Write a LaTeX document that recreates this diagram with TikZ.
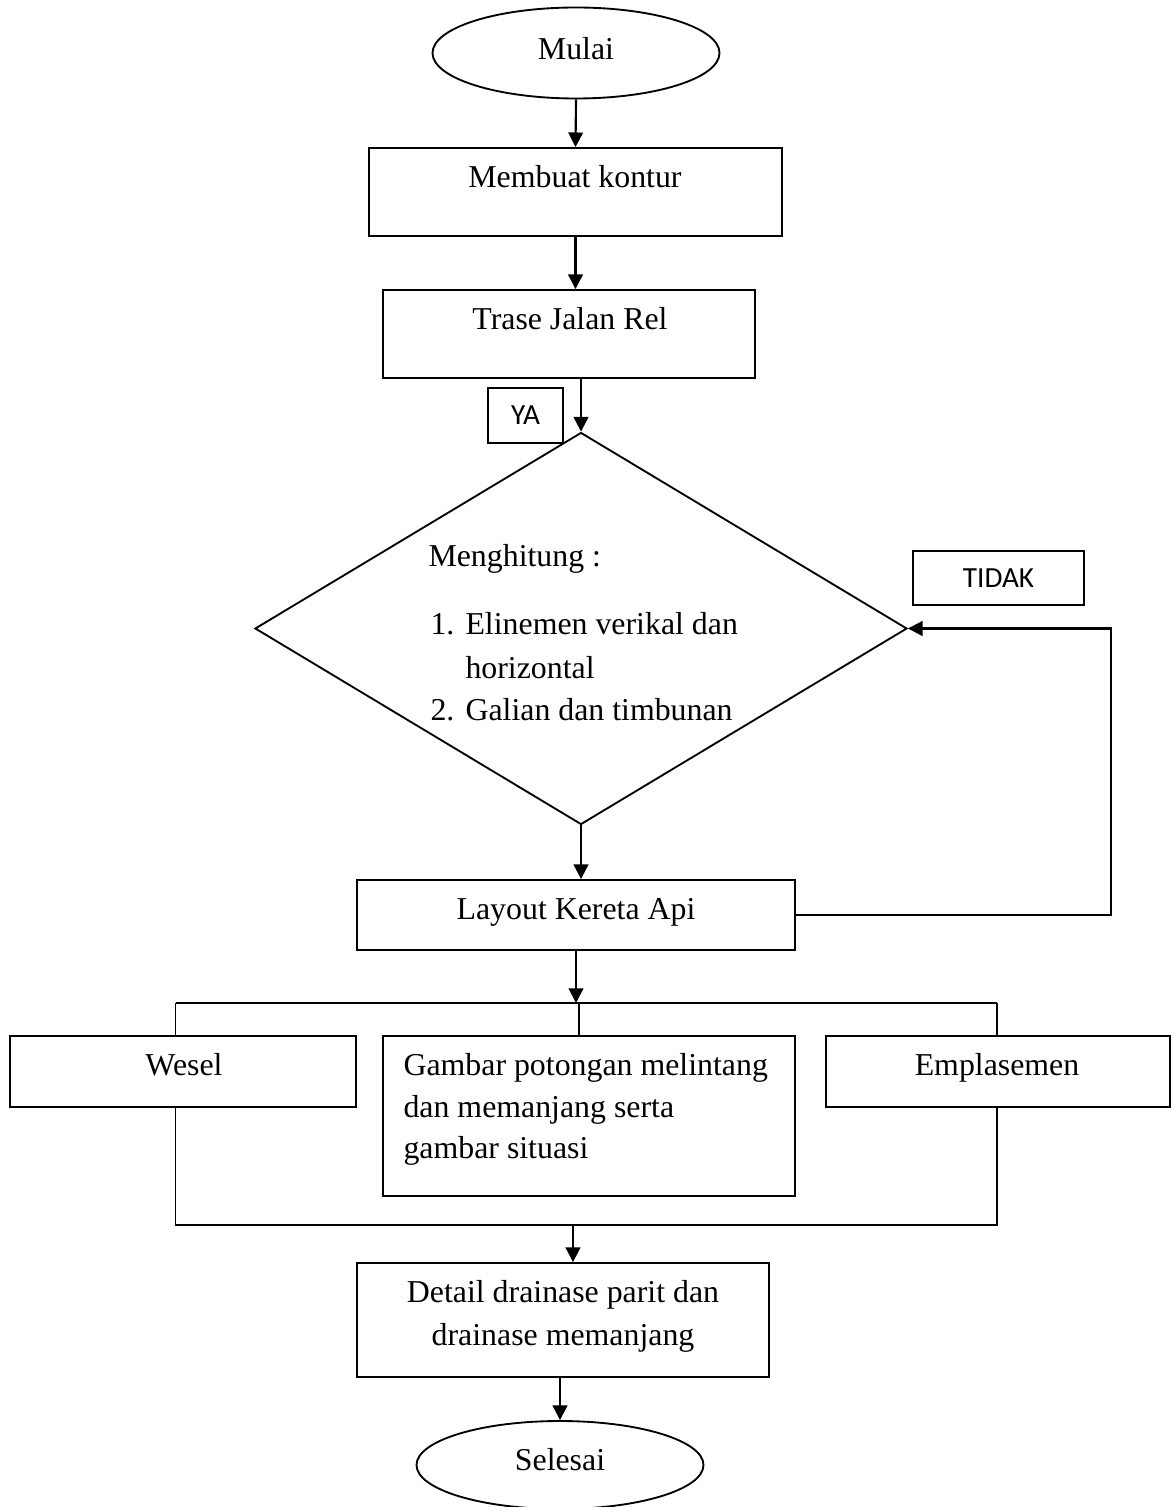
\documentclass[tikz,border=0pt]{standalone}
\usepackage{fontspec}
\setmainfont{Liberation Serif}
\newfontfamily\calibri{Carlito}
\usetikzlibrary{shapes.geometric, arrows.meta, positioning, calc}

\tikzset{
  box/.style={draw, line width=0.7pt, rectangle, inner sep=0pt},
  oval/.style={draw, line width=0.7pt, ellipse, inner sep=0pt},
  decision/.style={draw, line width=0.7pt, diamond, inner sep=0pt},
  tag/.style={draw, line width=0.7pt, rectangle, inner sep=0pt, font=\calibri\fontsize{11}{13}\selectfont},
  txt/.style={font=\fontsize{12}{15}\selectfont, inner sep=0pt, anchor=base},
  txtl/.style={txt, anchor=base west},
  arr/.style={line width=0.8pt, -{Triangle[length=5.5pt,width=5.5pt]}},
  line/.style={line width=0.7pt},
  wh/.style 2 args={minimum width=#1*0.01325cm, minimum height=#2*0.01325cm},
}

\begin{document}
\begin{tikzpicture}[x=0.01325cm, y=-0.01325cm]
    \useasboundingbox (0,0) rectangle (1171,1507);

    % Start
    \node[oval, wh={287}{91}] (mulai) at (576,53) {};
    \node[txt] (mulai-t) at (576,60) {Mulai};

    % Boxes
    \node[box, wh={413}{88}] (kontur) at (575.5,192) {};
    \node[txt] (kontur-t) at (575,188) {Membuat kontur};

    \node[box, wh={372}{88}] (trase) at (569,334) {};
    \node[txt] (trase-t) at (570,330) {Trase Jalan Rel};

    \node[tag, wh={75}{55}] (ya) at (525.5,415.5) {YA};

    % Decision
    \node[decision, wh={652}{392}] (hitung) at (581,628.5) {};
    \node[txtl] (hitung-t) at (428,566) {Menghitung :};
    \node[txtl] (no1) at (430,634) {1.};
    \node[txtl] (item1) at (465,634) {Elinemen verikal dan};
    \node[txtl] (item1b) at (465,678) {horizontal};
    \node[txtl] (no2) at (430,720) {2.};
    \node[txtl] (item2) at (465,720) {Galian dan timbunan};

    \node[tag, wh={171}{54}] (tidak) at (998.5,578) {TIDAK};

    \node[box, wh={438}{70}] (layout) at (576,915) {};
    \node[txt] (layout-t) at (576,919) {Layout Kereta Api};

    % Branches
    \node[box, wh={346}{71}] (wesel) at (183,1071.5) {};
    \node[txt] (wesel-t) at (184,1075) {Wesel};

    \node[box, wh={412}{160}] (gambar) at (589,1116) {};
    \node[txtl] (gambar-t1) at (403,1075) {Gambar potongan melintang};
    \node[txtl] (gambar-t2) at (403,1117) {dan memanjang serta};
    \node[txtl] (gambar-t3) at (403,1158) {gambar situasi};

    \node[box, wh={344}{71}] (empl) at (998,1071.5) {};
    \node[txt] (empl-t) at (997,1075) {Emplasemen};

    % End
    \node[box, wh={412}{114}] (detail) at (563,1320) {};
    \node[txt] (detail-t1) at (563,1302) {Detail drainase parit dan};
    \node[txt] (detail-t2) at (563,1345) {drainase memanjang};

    \node[oval, wh={287}{88}] (selesai) at (560,1465) {};
    \node[txt] (selesai-t) at (560,1470) {Selesai};

    \coordinate (balik) at (1111,915);
    \coordinate (cabang) at (579,1003);
    \coordinate (kiri) at (175.5,1003);
    \coordinate (kanan) at (997,1003);
    \coordinate (gabung) at (573,1225);

    % Connectors
    \draw[arr] (mulai.south) -- (kontur.north);
    \draw[arr] (kontur.south) -- (kontur.south |- trase.north);
    \draw[arr] (trase.south -| hitung.north) -- (hitung.north);
    \draw[arr] (hitung.south) -- (hitung.south |- layout.north);
    \draw[arr] (layout.east) -- (balik) |- (hitung.east);
    \draw[arr] (layout.south) -- (layout.south |- cabang);

    \draw[line] (kiri) -- (kanan);
    \draw[line] (kiri) -- (kiri |- wesel.north);
    \draw[line] (kanan) -- (kanan |- empl.north);
    \draw[line] (cabang) -- (cabang |- gambar.north);

    \draw[line] (kiri |- wesel.south) -- (kiri |- gabung) -- (kanan |- gabung) -- (kanan |- empl.south);
    \draw[arr] (gabung) -- (gabung |- detail.north);
    \draw[arr] (selesai.north |- detail.south) -- (selesai.north);
\end{tikzpicture}
\end{document}
